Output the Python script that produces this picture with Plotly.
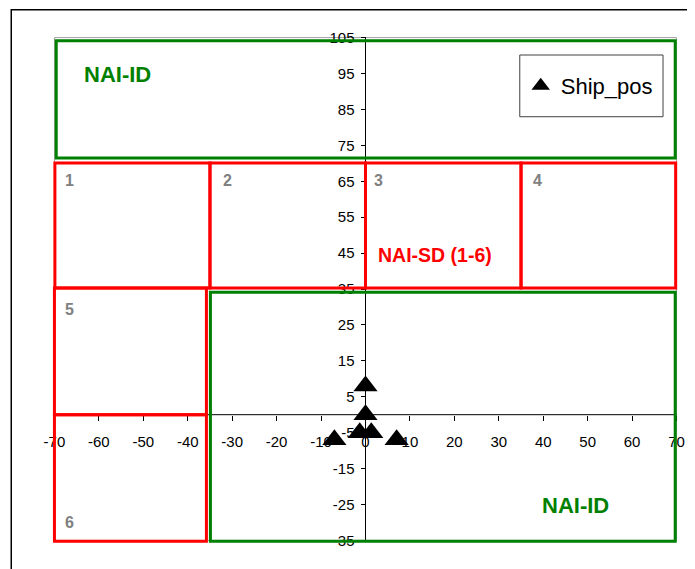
import plotly.graph_objects as go

# ---- data ----
ship_x = [0, 0, -1.3, 1.3, -7, 7]
ship_y = [8, 0, -5, -5, -7, -7]

x_ticks = [-70, -60, -50, -40, -30, -20, -10, 0, 10, 20, 30, 40, 50, 60, 70]
y_ticks = [-35, -25, -15, -5, 5, 15, 25, 35, 45, 55, 65, 75, 85, 95, 105]

# regions (x0, x1, y0, y1)
region_names = ["NAI-ID top", "1", "2", "3", "4", "5", "6", "NAI-ID bottom"]
region_x0 = [-69.6, -69.9, -35.0, 0.0, 35.0, -70.0, -70.0, -34.9]
region_x1 = [69.7, -35.0, 0.0, 35.0, 69.8, -35.8, -35.8, 69.7]
region_y0 = [71.5, 35.3, 35.3, 35.3, 35.3, 0.0, -35.2, -35.2]
region_y1 = [104.1, 70.1, 70.1, 70.1, 70.1, 35.3, 0.0, 34.1]
region_kind = ["ID", "SD", "SD", "SD", "SD", "SD", "SD", "ID"]

num_labels = ["1", "2", "3", "4", "5", "6"]
num_x = [-66.6, -31.1, 2.9, 38.7, -66.6, -66.6]
num_y = [65.2, 65.2, 65.2, 65.2, 29.3, -30.0]

big_labels = ["NAI-ID", "NAI-ID", "NAI-SD (1-6)"]
big_x = [-55.9, 47.3, 15.7]
big_y = [94.7, -25.4, 44.5]
big_kind = ["ID", "ID", "SD"]

FONT = "Liberation Sans, Arial, sans-serif"
RED = "#FF0000"
GREEN = "#008000"
kind_color = {"ID": GREEN, "SD": RED}

fig = go.Figure()
fig.add_trace(go.Scatter(
    x=ship_x, y=ship_y, mode="markers", name="Ship_pos",
    marker=dict(symbol="triangle-up", size=21, color="black"),
))

shapes = []
# plot-area frame (light grey)
shapes.append(dict(type="rect", xref="x", yref="y", x0=-70, x1=70, y0=-35, y1=105,
                   line=dict(color="#A0A0A0", width=1), layer="below"))
# axis lines crossing at zero
shapes.append(dict(type="line", xref="x", yref="y", x0=x_ticks[0], x1=x_ticks[-1], y0=0, y1=0,
                   line=dict(color="black", width=1), layer="above"))
shapes.append(dict(type="line", xref="x", yref="y", x0=0, x1=0, y0=y_ticks[0], y1=y_ticks[-1],
                   line=dict(color="black", width=1), layer="above"))
for k, x0, x1, y0, y1 in zip(region_kind, region_x0, region_x1, region_y0, region_y1):
    shapes.append(dict(type="rect", xref="x", yref="y", x0=x0, x1=x1, y0=y0, y1=y1,
                       line=dict(color=kind_color[k], width=3), layer="above"))
# outer chart frame
shapes.append(dict(type="rect", xref="paper", yref="paper", x0=-0.0614, x1=1.05, y0=-0.1, y1=1.0475,
                   line=dict(color="black", width=1.5), layer="above"))
# legend frame
shapes.append(dict(type="rect", xref="paper", yref="paper", x0=0.7445, x1=0.9715, y0=0.8378, y1=0.9588,
                   line=dict(color="#404040", width=1), fillcolor="white", layer="above"))

annotations = []
for t, x, y in zip(num_labels, num_x, num_y):
    annotations.append(dict(x=x, y=y, xref="x", yref="y", text=t, showarrow=False,
                            font=dict(family=FONT, size=16, color="#808080", weight="bold")))
for t, x, y, k in zip(big_labels, big_x, big_y, big_kind):
    annotations.append(dict(x=x, y=y, xref="x", yref="y", text=t, showarrow=False,
                            font=dict(family=FONT, size=22 if k == "ID" else 19.5,
                                      color=kind_color[k], weight="bold")))

# the page body has an 8px margin, so the figure is offset by 8px
fig.update_layout(
    width=687, height=561,
    margin=dict(l=42, r=10, t=26, b=25),
    paper_bgcolor="white", plot_bgcolor="white",
    font=dict(family=FONT, size=15, color="black"),
    shapes=shapes, annotations=annotations,
    showlegend=True,
    legend=dict(x=0.746, xanchor="left", y=0.898, yanchor="middle",
                bgcolor="rgba(0,0,0,0)", borderwidth=0,
                font=dict(family=FONT, size=22, color="black")),
    xaxis=dict(range=[-71, 71], anchor="free", position=36 / 142,
               tickvals=x_ticks, ticktext=[str(v) for v in x_ticks],
               ticks="outside", ticklen=5, tickcolor="black",
               showgrid=False, zeroline=False, showline=False,
               ticklabelstandoff=8, layer="below traces",
               tickfont=dict(family=FONT, size=15, color="black")),
    yaxis=dict(range=[-36, 106], anchor="free", position=0.5,
               tickvals=y_ticks, ticktext=[str(v) for v in y_ticks],
               ticks="outside", ticklen=5, tickcolor="black",
               showgrid=False, zeroline=False, showline=False,
               ticklabelstandoff=3, layer="below traces",
               tickfont=dict(family=FONT, size=15, color="black")),
)

fig.write_html("out.html")
